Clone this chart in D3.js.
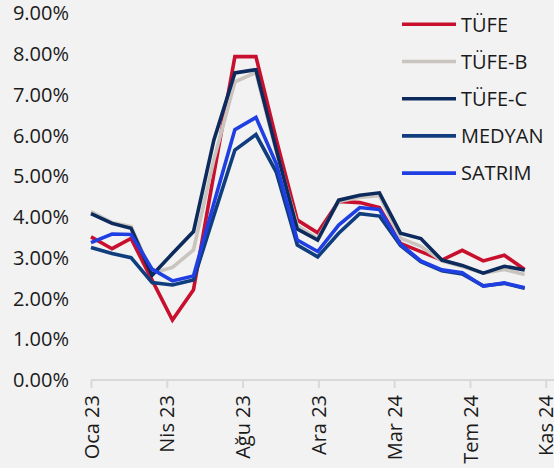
<!DOCTYPE html>
<html><head><meta charset="utf-8">
<script src="https://cdn.jsdelivr.net/npm/d3@7"></script>
<style>
html,body{margin:0;padding:0;background:#f2f2f2;}
svg{display:block;font-family:"Open Sans",sans-serif;}
</style></head>
<body>
<svg id="c" width="554" height="468"></svg>
<script>
const months = ["2023-01","2023-02","2023-03","2023-04","2023-05","2023-06","2023-07","2023-08","2023-09","2023-10","2023-11","2023-12",
"2024-01","2024-02","2024-03","2024-04","2024-05","2024-06","2024-07","2024-08","2024-09","2024-10"];
const tufe   = [3.51,3.22,3.47,2.45,1.47,2.21,5.05,7.93,7.93,5.90,3.92,3.61,4.38,4.35,4.23,3.35,3.15,2.94,3.18,2.92,3.06,2.71];
const tufeB  = [4.13,3.86,3.76,2.62,2.76,3.19,5.40,7.31,7.54,5.60,3.78,3.47,4.38,4.48,4.52,3.48,3.28,2.92,2.78,2.62,2.71,2.59];
const tufeC  = [4.08,3.84,3.72,2.57,3.10,3.64,5.88,7.53,7.61,5.65,3.70,3.43,4.41,4.53,4.59,3.60,3.47,2.94,2.81,2.62,2.79,2.70];
const medyan = [3.25,3.10,3.00,2.39,2.33,2.45,4.03,5.64,6.02,5.10,3.31,3.02,3.60,4.08,4.02,3.30,2.90,2.68,2.60,2.31,2.37,2.25];
const satrim = [3.37,3.58,3.57,2.72,2.43,2.55,4.33,6.14,6.44,5.30,3.43,3.15,3.80,4.23,4.18,3.33,2.92,2.70,2.63,2.30,2.38,2.26];
const seriesNames = ["TÜFE","TÜFE-B","TÜFE-C","MEDYAN","SATRIM"];
const seriesColors = ["#c8102e","#c9c4be","#0c2a5c","#0f3d7e","#1f3fe2"];
const xTickLabels = ["Oca 23","Nis 23","Ağu 23","Ara 23","Mar 24","Tem 24","Kas 24"];
const yTicks = [0,1,2,3,4,5,6,7,8,9];

const seriesValues = [tufe,tufeB,tufeC,medyan,satrim];
const parse = d3.timeParse("%Y-%m");
const dates = months.map(parse);
const start = parse("2023-01"), end = parse("2024-11");

const svg = d3.select("#c");
const x = d3.scaleTime().domain([start,end]).range([91,545.7]);
const y = d3.scaleLinear().domain([0,9]).range([380,13]);

// y labels
svg.append("g").selectAll("text").data(yTicks).join("text")
  .attr("x",69).attr("y",d=>y(d)).attr("dy","0.36em")
  .attr("text-anchor","end").attr("font-size",20).attr("fill","#1a1a1a")
  .text(d=>d.toFixed(2)+"%");

// x axis
const tickDates = d3.range(xTickLabels.length).map(k=>new Date(+start + k*(end-start)/(xTickLabels.length-1)));
const xAxis = d3.axisBottom(x).tickValues(tickDates).tickFormat((d,i)=>xTickLabels[i]).tickSize(8).tickSizeOuter(0);
const gx = svg.append("g").attr("transform","translate(0,380)").call(xAxis);
gx.select(".domain").attr("stroke","#d9d9d9").attr("stroke-width",2).attr("d","M91,0H560");
gx.selectAll(".tick line").attr("stroke","#d9d9d9").attr("stroke-width",2);
gx.selectAll(".tick text")
  .attr("font-size",20).attr("fill","#1a1a1a").attr("font-family","Open Sans, sans-serif")
  .attr("transform","rotate(-90)").attr("text-anchor","end")
  .attr("x",-15).attr("y",0).attr("dy","0.36em");

// lines
const line = d3.line().x((d,i)=>x(dates[i])).y(d=>y(d));
svg.append("g").selectAll("path").data(seriesValues).join("path")
  .attr("d",line).attr("fill","none")
  .attr("stroke",(d,i)=>seriesColors[i]).attr("stroke-width",3.6)
  .attr("stroke-linejoin","miter").attr("stroke-miterlimit",4);

// legend
const lg = svg.append("g").selectAll("g").data(seriesNames).join("g")
  .attr("transform",(d,i)=>`translate(0,${24.3+i*37.2})`);
lg.append("line").attr("x1",402).attr("x2",456).attr("y1",0).attr("y2",0)
  .attr("stroke",(d,i)=>seriesColors[i]).attr("stroke-width",3.6);
lg.append("text").attr("x",461).attr("y",0).attr("dy","0.36em")
  .attr("font-size",20).attr("fill","#1a1a1a").text(d=>d);
</script>
</body></html>
